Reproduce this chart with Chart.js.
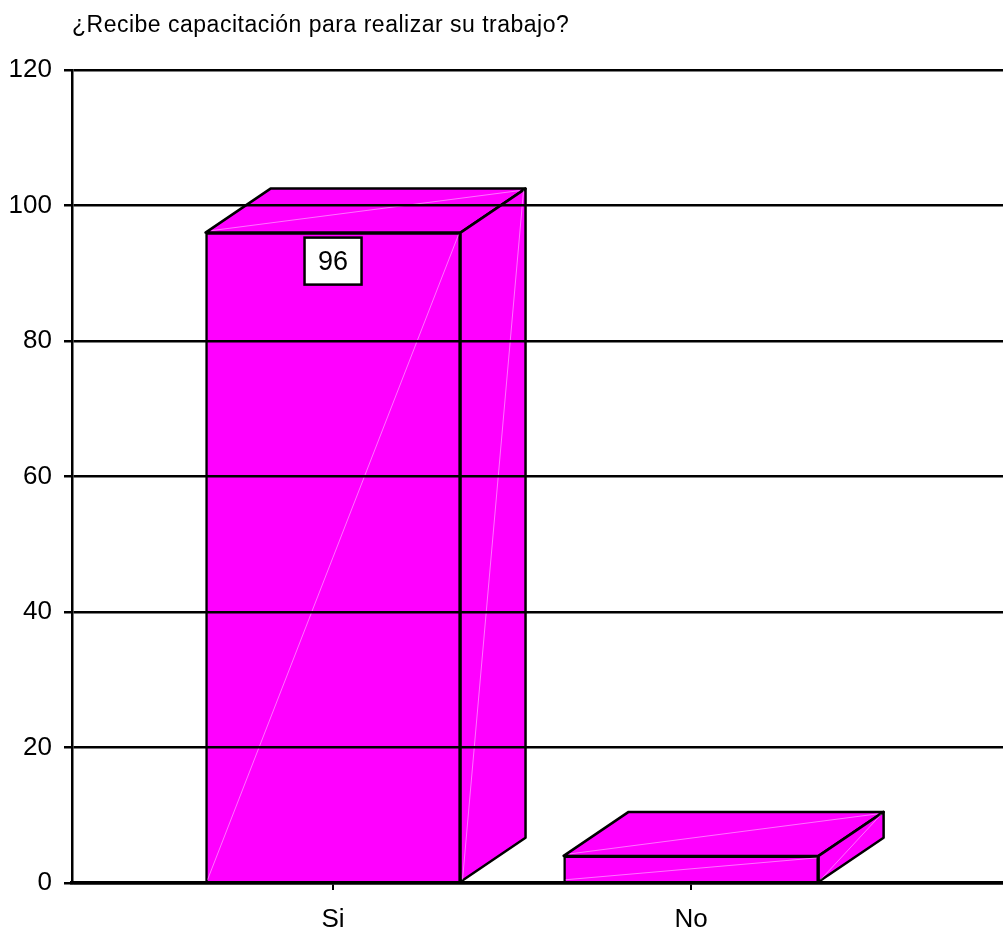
<!DOCTYPE html>
<html>
<head>
<meta charset="utf-8">
<script src="https://cdn.jsdelivr.net/npm/chart.js@4/dist/chart.umd.min.js"></script>
<style>
  html, body { margin: 0; padding: 0; background: #fff; }
  #wrap { width: 1003px; height: 929px; }
</style>
</head>
<body>
<div id="wrap"><canvas id="chart"></canvas></div>
<script>
const chartTitle = "¿Recibe capacitación para realizar su trabajo?";
const categories = ["Si", "No"];
const values = [96, 4];
const valueLabels = ["96", ""];
const yTicks = [0, 20, 40, 60, 80, 100, 120];

const FONT = "'Liberation Sans', Arial, sans-serif";
const MAGENTA = "#ff00ff";
// 3d depth of the bars
const DX = 65, DY = 44;

function poly(ctx, pts, fill) {
  ctx.beginPath();
  ctx.moveTo(pts[0][0], pts[0][1]);
  for (let i = 1; i < pts.length; i++) ctx.lineTo(pts[i][0], pts[i][1]);
  ctx.closePath();
  ctx.fillStyle = fill;
  ctx.fill();
  ctx.lineWidth = 2.5;
  ctx.strokeStyle = "#000";
  ctx.lineJoin = "round";
  ctx.stroke();
}

function faint(ctx, x1, y1, x2, y2) {
  ctx.beginPath();
  ctx.moveTo(x1, y1);
  ctx.lineTo(x2, y2);
  ctx.lineWidth = 1;
  ctx.strokeStyle = "rgba(255,255,255,0.45)";
  ctx.stroke();
}

const bars3d = {
  id: "bars3d",
  beforeDatasetsDraw(chart) {
    const ctx = chart.ctx;
    ctx.save();
    chart.getDatasetMeta(0).data.forEach(bar => {
      const l = bar.x - bar.width / 2, r = bar.x + bar.width / 2;
      const t = bar.y, b = bar.base;
      // top face
      poly(ctx, [[l, t], [r, t], [r + DX, t - DY], [l + DX, t - DY]], MAGENTA);
      // side face
      poly(ctx, [[r, t], [r + DX, t - DY], [r + DX, b - DY], [r, b]], MAGENTA);
    });
    ctx.restore();
  },
  afterDatasetsDraw(chart) {
    const ctx = chart.ctx;
    ctx.save();
    chart.getDatasetMeta(0).data.forEach((bar, i) => {
      const l = bar.x - bar.width / 2, r = bar.x + bar.width / 2;
      const t = bar.y, b = bar.base;
      faint(ctx, l + 2, b - 2, r - 2, t + 2);
      faint(ctx, r + 2, b - 2, r + DX - 2, t - DY + 2);
      faint(ctx, l + 6, t - 2, r + DX - 6, t - DY + 2);

      if (valueLabels[i]) {
        const w = 57, h = 47, y0 = t + 5;
        ctx.fillStyle = "#fff";
        ctx.fillRect(bar.x - w / 2, y0, w, h);
        ctx.lineWidth = 2.5;
        ctx.strokeStyle = "#000";
        ctx.strokeRect(bar.x - w / 2, y0, w, h);
        ctx.fillStyle = "#000";
        ctx.font = "27px " + FONT;
        ctx.textAlign = "center";
        ctx.textBaseline = "middle";
        ctx.fillText(valueLabels[i], bar.x, y0 + h / 2 + 1);
      }
    });
    ctx.restore();
  }
};

const titlePlugin = {
  id: "titleText",
  afterDraw(chart) {
    const ctx = chart.ctx;
    ctx.save();
    ctx.font = "23px " + FONT;
    ctx.fillStyle = "#000";
    ctx.textAlign = "left";
    ctx.textBaseline = "alphabetic";
    ctx.letterSpacing = "0.5px";
    ctx.fillText(chartTitle, 72, 32);
    ctx.restore();
  }
};

new Chart(document.getElementById("chart"), {
  type: "bar",
  data: {
    datasets: [{
      data: values.map((v, i) => ({ x: i, y: v })),
      backgroundColor: MAGENTA,
      borderColor: "#000",
      borderWidth: 2.5,
      barThickness: 255
    }]
  },
  options: {
    responsive: true,
    maintainAspectRatio: false,
    animation: false,
    layout: { padding: { top: 70, right: 0, bottom: 0, left: 0 } },
    plugins: { legend: { display: false }, tooltip: { enabled: false } },
    scales: {
      x: {
        type: "linear",
        min: -0.729,
        max: 1.871,
        offset: false,
        afterBuildTicks: s => { s.ticks = categories.map((c, i) => ({ value: i })); },
        afterFit: s => { s.height = 46; },
        grid: { offset: false, drawOnChartArea: false, tickLength: 7, color: "#000", lineWidth: 2, z: 1 },
        border: { display: true, color: "#000", width: 3.5, z: 1 },
        ticks: {
          callback: v => categories[v],
          font: { family: FONT, size: 26 },
          color: "#000",
          padding: 14,
          maxRotation: 0
        }
      },
      y: {
        min: 0,
        max: 120,
        afterBuildTicks: s => { s.ticks = yTicks.map(v => ({ value: v })); },
        afterFit: s => { s.width = 72; },
        grid: { color: "#000", lineWidth: 2.5, tickLength: 8, z: 1 },
        border: { display: true, color: "#000", width: 2.5, z: 1 },
        ticks: {
          font: { family: FONT, size: 26 },
          color: "#000",
          padding: 12
        }
      }
    }
  },
  plugins: [bars3d, titlePlugin]
});
</script>
</body>
</html>
